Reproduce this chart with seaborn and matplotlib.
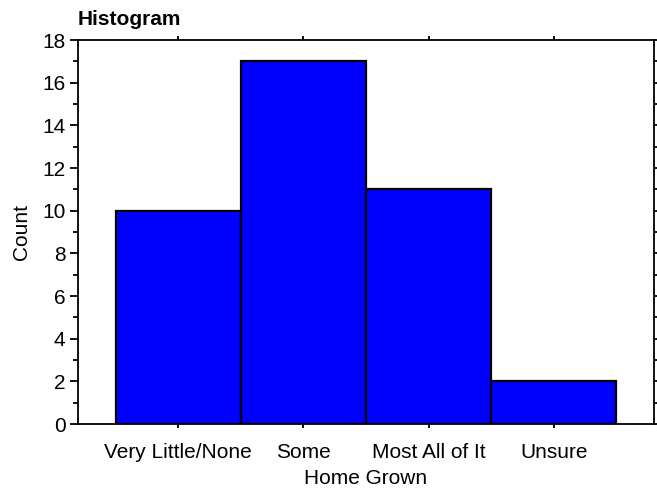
import numpy as np
import pandas as pd
import matplotlib
matplotlib.use("Agg")
import matplotlib.pyplot as plt
import seaborn as sns
from matplotlib.ticker import MultipleLocator

# data
categories = ['Very Little/None', 'Some', 'Most All of It', 'Unsure']
counts = [10, 17, 11, 2]

df = pd.DataFrame({'Home Grown': categories, 'Count': counts})

sns.set_style("ticks", {'text.color': 'black', 'axes.labelcolor': 'black',
                        'xtick.color': 'black', 'ytick.color': 'black',
                        'axes.edgecolor': 'black'})
plt.rcParams['font.family'] = ['Liberation Sans', 'DejaVu Sans']

fig = plt.figure(figsize=(6.57, 4.88), dpi=100)
ax = fig.add_axes([0.1187, 0.1311, 0.8767, 0.7869])

# draw the bars
sns.barplot(data=df, x='Home Grown', y='Count', order=categories, color='#0000FF',
            saturation=1, width=1.0, edgecolor='black', linewidth=1.6, ax=ax)

ax.set_xlim(-0.8, 3.8)
ax.set_ylim(0, 18)
ax.yaxis.set_major_locator(MultipleLocator(2))
ax.yaxis.set_minor_locator(MultipleLocator(1))

for side in ['left', 'right', 'top', 'bottom']:
    ax.spines[side].set_visible(True)
    ax.spines[side].set_linewidth(1.3)
    ax.spines[side].set_color('black')

ax.tick_params(axis='y', which='major', direction='out', length=6, width=1.3,
               labelsize=15, pad=3, right=True, colors='black')
ax.tick_params(axis='y', which='minor', direction='out', length=3.5, width=1.3, right=True)
ax.tick_params(axis='x', which='major', direction='out', length=3, width=1.3,
               labelsize=15, pad=11, top=True, colors='black')

ax.set_xlabel('Home Grown', fontsize=15, labelpad=5, color='black')
ax.set_ylabel('Count', fontsize=15, labelpad=8, color='black')
ax.set_title('Histogram', fontsize=15, fontweight='bold', loc='left', pad=11, color='black')

fig.savefig('out.png', dpi=100)
